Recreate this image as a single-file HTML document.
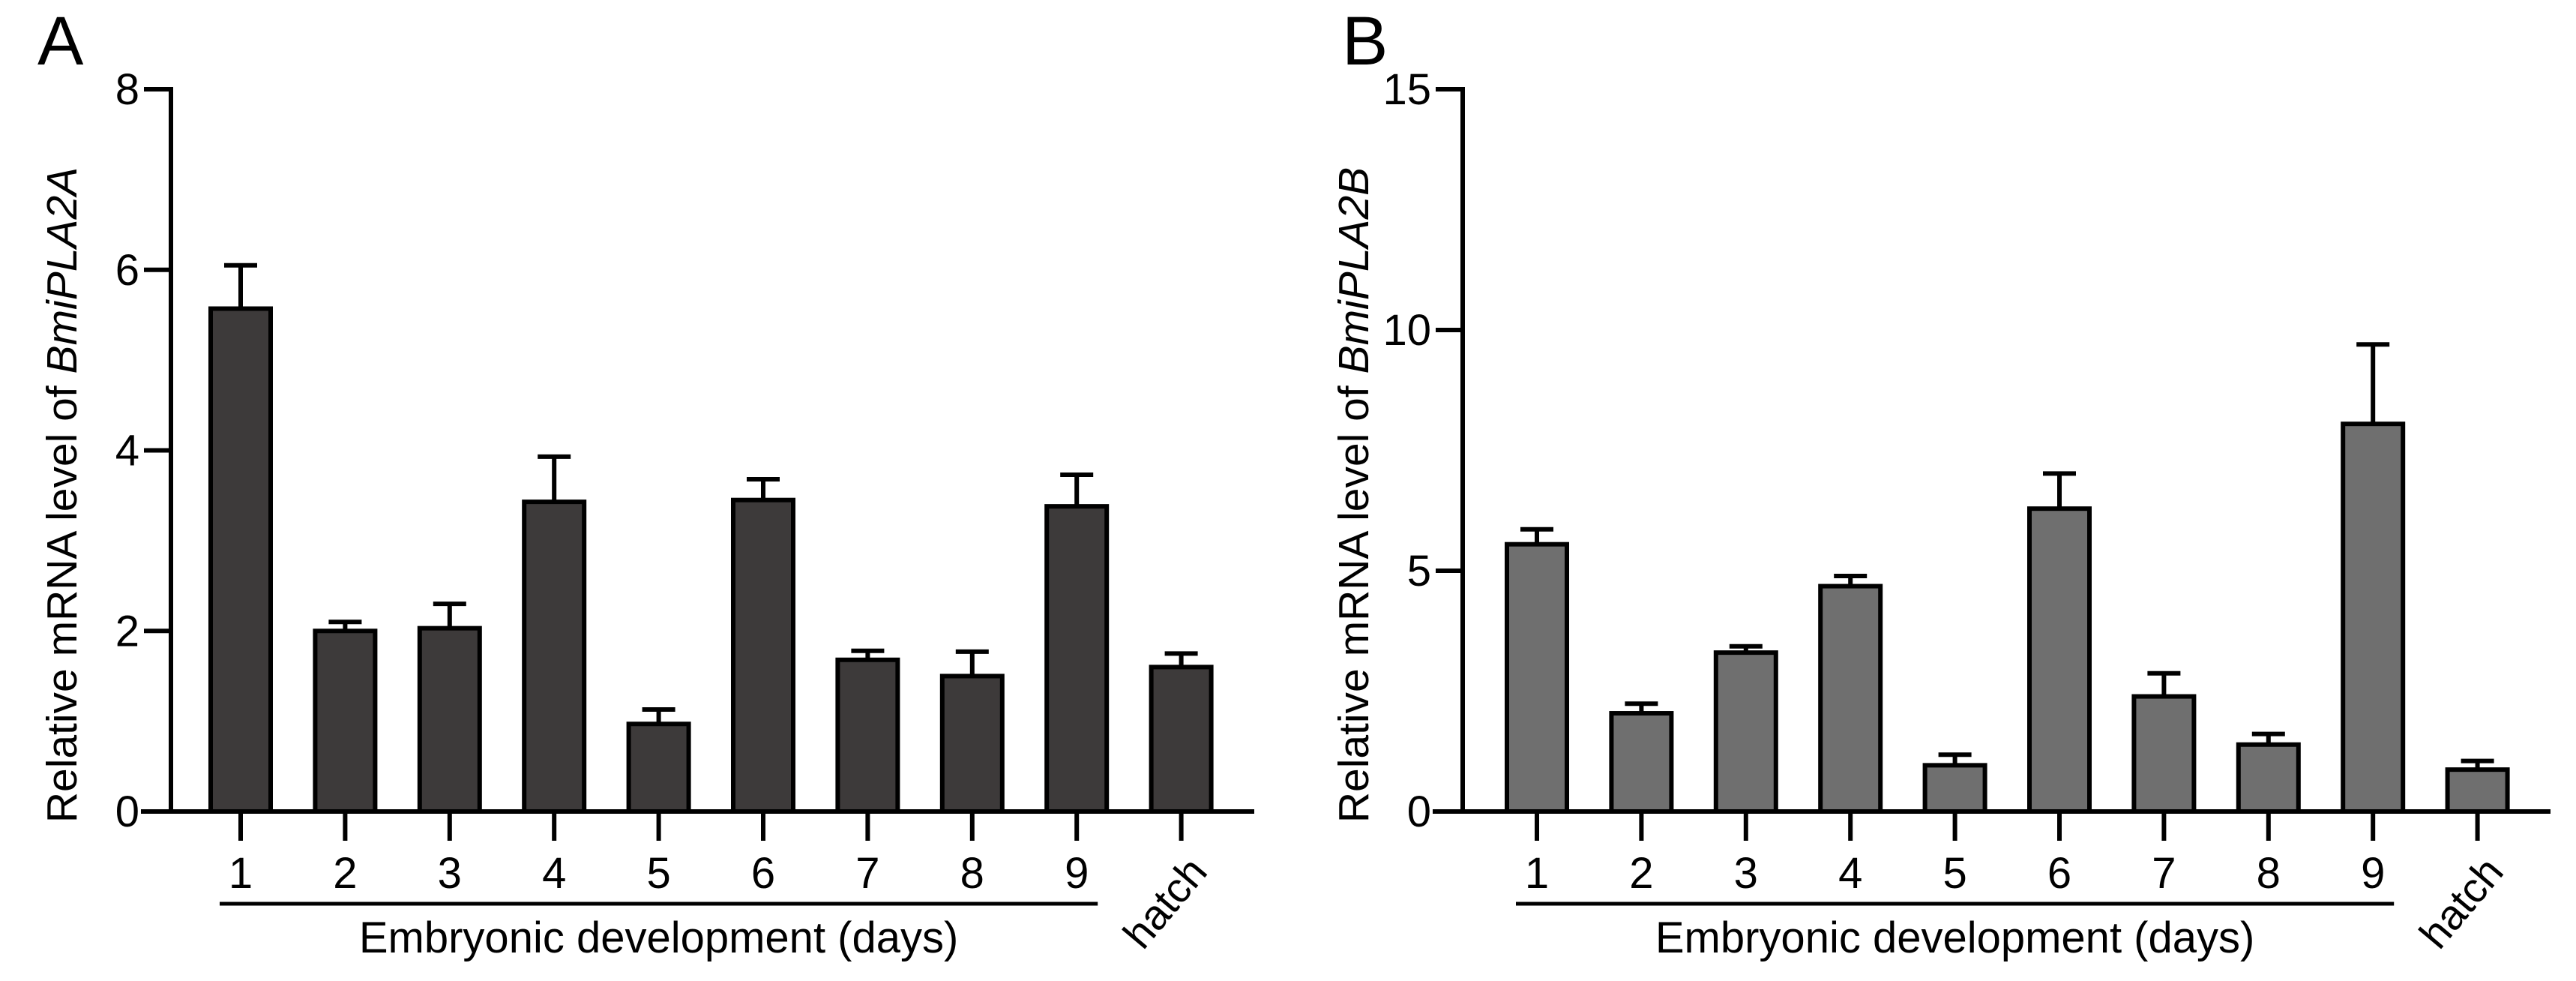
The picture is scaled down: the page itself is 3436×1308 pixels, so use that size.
<!DOCTYPE html>
<html><head><meta charset="utf-8"><style>
html,body{margin:0;padding:0;background:#fff;}
svg{display:block;font-family:"Liberation Sans",Arial,sans-serif;}
</style></head><body>
<svg id="fig" width="3436" height="1308" viewBox="0 0 3436 1308" xmlns="http://www.w3.org/2000/svg">
<text x="50" y="86" font-size="92">A</text>
<text x="1790" y="86" font-size="92">B</text>
<g id="pa"></g>
<g id="pb"></g>
</svg>
<script>
const categories = ["1","2","3","4","5","6","7","8","9","hatch"];
const valuesA = [5.57,2.0,2.03,3.43,0.97,3.45,1.68,1.5,3.38,1.6];
const errorsA = [0.48,0.1,0.27,0.5,0.16,0.23,0.1,0.27,0.35,0.15];
const ticksA = [0,2,4,6,8];
const valuesB = [5.55,2.04,3.3,4.68,0.96,6.29,2.39,1.39,8.05,0.87];
const errorsB = [0.31,0.2,0.13,0.21,0.22,0.73,0.48,0.22,1.65,0.18];
const ticksB = [0,5,10,15];
const NS="http://www.w3.org/2000/svg";
function mk(p,t,a){const e=document.createElementNS(NS,t);for(const k in a)e.setAttribute(k,a[k]);p.appendChild(e);return e;}
function panel(g,ax,x0,x1,vals,errs,ticks,ymax,fill,gene){
  const y0=1082,yT=119;
  const ys=v=>y0-(v/ymax)*(y0-yT);
  const step=139.4;
  const xs=i=>x0+i*step;
  const bw=80;
  vals.forEach((v,i)=>{
    const cx=xs(i);
    const eb=mk(g,'path',{d:`M${cx} ${ys(v)}V${ys(v+errs[i])}M${cx-22} ${ys(v+errs[i])}H${cx+22}`,stroke:'#000','stroke-width':6,fill:'none'});
    
    
    const r=mk(g,'rect',{x:cx-bw/2,y:ys(v),width:bw,height:y0-ys(v),fill:fill,stroke:'#000','stroke-width':6});
    
    
    const tk=mk(g,'line',{x1:cx,x2:cx,y1:y0,y2:1121,stroke:'#000','stroke-width':6});
    
    
    if(i<9){
      const t=mk(g,'text',{x:cx,y:1184,'font-size':58,'text-anchor':'middle'});
      t.textContent=categories[i];
      
      
    } else {
      const t=mk(g,'text',{x:cx-20,y:1222,'font-size':56,'text-anchor':'middle',transform:`rotate(-50 ${cx-20} 1205)`});
      t.textContent=categories[i];
      
      
    }
  });
  const ya=mk(g,'line',{x1:ax,x2:ax,y1:yT-3,y2:y0+3,stroke:'#000','stroke-width':6});
  
  
  const xa=mk(g,'line',{x1:ax-40,x2:x1,y1:y0,y2:y0,stroke:'#000','stroke-width':6});
  
  
  ticks.forEach(tv=>{
    const l=mk(g,'line',{x1:ax-36,x2:ax,y1:ys(tv),y2:ys(tv),stroke:'#000','stroke-width':6});
    
    
    const t=mk(g,'text',{x:ax-42,y:ys(tv)+20,'font-size':58,'text-anchor':'end'});
    t.textContent=tv;
    
    
  });
  const ul=mk(g,'line',{x1:xs(0)-28,x2:xs(8)+28,y1:1205,y2:1205,stroke:'#000','stroke-width':5});
  
  
  const tt=mk(g,'text',{x:(xs(0)+xs(8))/2,y:1270,'font-size':58,'text-anchor':'middle'});
  tt.textContent='Embryonic development (days)';
  
  
  const yl=mk(g,'text',{x:0,y:0,'font-size':57,'text-anchor':'middle',transform:`translate(${ax-126} 660) rotate(-90)`});
  yl.innerHTML='Relative mRNA level of <tspan font-style="italic">'+gene+'</tspan>';
  
  
}
panel(document.getElementById('pa'),228,321,1673,valuesA,errorsA,ticksA,8,'#3d3a3a','BmiPLA2A');
panel(document.getElementById('pb'),1951,2050,3402,valuesB,errorsB,ticksB,15,'#6f6f6f','BmiPLA2B');
</script>
</body></html>
